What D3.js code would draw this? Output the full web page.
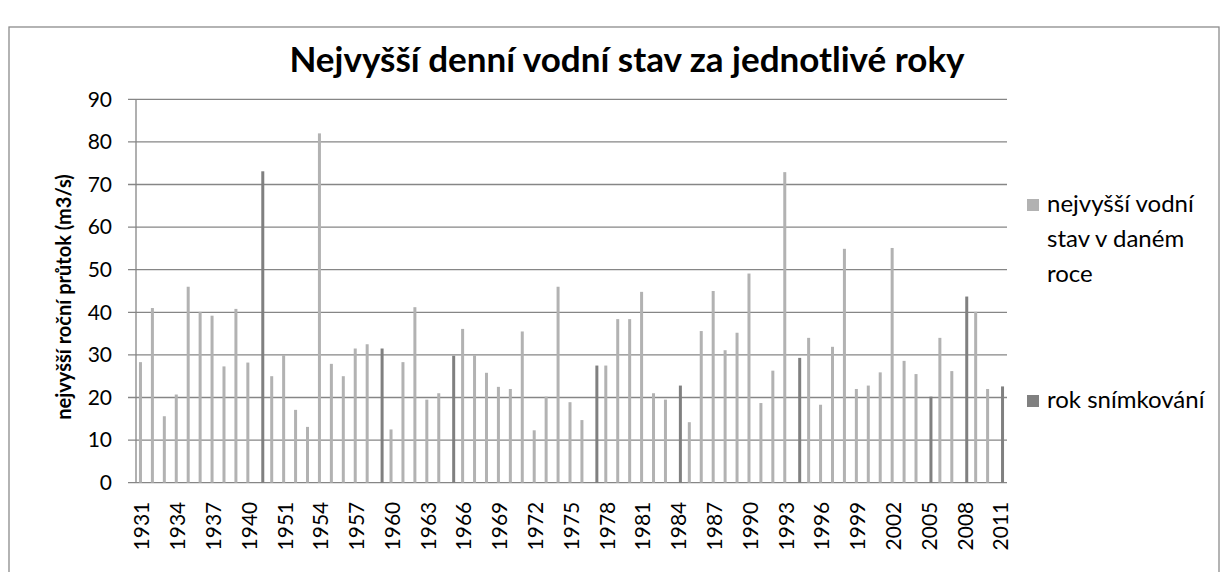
<!DOCTYPE html>
<html><head><meta charset="UTF-8">
<script src="https://d3js.org/d3.v7.min.js"></script>
</head>
<body style="margin:0;background:#fff">
<div id="body"></div>
<script type="text/javascript">

var years = ["1931","1932","1933","1934","1935","1936","1937","1938","1939","1940",
    "1949","1950"];
for (var yr = 1951; yr <= 2011; yr++) years.push(String(yr));

// null where the year is a photo year (shown in the dark series)
var flow = [28.3,41.0,15.6,20.7,46.0,40.1,39.2,27.3,40.8,28.2,
    null,25.0,29.9,17.1,13.1,82.0,27.9,25.0,31.5,32.5,null,12.5,28.3,41.2,19.5,21.0,
    null,36.1,29.9,25.8,22.5,22.0,35.5,12.3,20.2,46.0,18.9,14.7,null,27.5,38.4,38.4,
    44.8,21.0,19.5,null,14.2,35.6,45.0,31.1,35.2,49.1,18.7,26.3,72.9,null,34.0,18.3,
    31.9,54.9,22.0,22.8,25.9,55.1,28.6,25.5,null,34.0,26.2,null,40.1,22.0,null];

var photoYears = ["1949","1959","1965","1977","1984","1994","2005","2008","2011"];
var photoFlow = [73.1,31.5,29.8,27.5,22.8,29.3,20.2,43.7,22.6];

var yTicks = [0,10,20,30,40,50,60,70,80,90];
var seriesColors = ["#b2b2b2", "#808080"];

var w = 1227, h = 572,
    pLeft = 136, pRight = 1007, pTop = 99.3, pBottom = 482.7;

var svg = d3.select("#body").append("svg")
    .attr("width", w)
    .attr("height", h)
    .style("font-family", "Lato, sans-serif");

svg.append("rect")
    .attr("x", 9).attr("y", 27)
    .attr("width", 1210).attr("height", 560)
    .attr("fill", "#fff")
    .attr("stroke", "#8c8c8c")
    .attr("stroke-width", 1.3);

var x = d3.scaleBand().domain(years).range([pLeft, pRight]);
var x1 = d3.scaleBand().domain(["a", "b"]).range([x.bandwidth() / 2 - 3, x.bandwidth() / 2 + 3]);
var yScale = d3.scaleLinear().domain([0, 90]).range([pBottom, pTop]);

// grid
svg.append("g")
    .selectAll("line")
    .data(yTicks)
    .enter().append("line")
    .attr("x1", pLeft - 8).attr("x2", pRight)
    .attr("y1", function(d) { return yScale(d); })
    .attr("y2", function(d) { return yScale(d); })
    .attr("stroke", "#868686")
    .attr("stroke-width", 1.3);

svg.append("line")
    .attr("x1", pLeft).attr("x2", pLeft)
    .attr("y1", pTop).attr("y2", pBottom)
    .attr("stroke", "#868686")
    .attr("stroke-width", 1.3);

svg.append("g")
    .selectAll("text")
    .data(yTicks)
    .enter().append("text")
    .attr("x", pLeft - 24)
    .attr("y", function(d) { return yScale(d); })
    .attr("dy", "0.35em")
    .attr("text-anchor", "end")
    .style("font-size", "21px")
    .text(function(d) { return d; });

// bars
svg.append("g")
    .selectAll("rect")
    .data(years.map(function(d, i) { return {year: d, v: flow[i]}; }).filter(function(d) { return d.v != null; }))
    .enter().append("rect")
    .attr("x", function(d) { return x(d.year) + x1("a"); })
    .attr("width", x1.bandwidth())
    .attr("y", function(d) { return yScale(d.v); })
    .attr("height", function(d) { return pBottom - yScale(d.v); })
    .attr("fill", seriesColors[0]);

svg.append("g")
    .selectAll("rect")
    .data(photoYears.map(function(d, i) { return {year: d, v: photoFlow[i]}; }))
    .enter().append("rect")
    .attr("x", function(d) { return x(d.year) + x1("b"); })
    .attr("width", x1.bandwidth())
    .attr("y", function(d) { return yScale(d.v); })
    .attr("height", function(d) { return pBottom - yScale(d.v); })
    .attr("fill", seriesColors[1]);

// x labels every third category
svg.append("g")
    .selectAll("text")
    .data(years.filter(function(d, i) { return i % 3 == 0; }))
    .enter().append("text")
    .attr("transform", function(d) { return "translate(" + (x(d) + x.bandwidth() / 2) + "," + (pBottom + 19) + ") rotate(-90)"; })
    .attr("dy", "0.35em")
    .attr("text-anchor", "end")
    .style("font-size", "21px")
    .text(function(d) { return d; });

// title
svg.append("text")
    .attr("x", 627).attr("y", 72)
    .attr("text-anchor", "middle")
    .style("font-size", "35px")
    .style("font-weight", "bold")
    .text("Nejvyšší denní vodní stav za jednotlivé roky");

svg.append("text")
    .attr("transform", "translate(71,297) rotate(-90)")
    .attr("text-anchor", "middle")
    .style("font-size", "20px")
    .style("font-weight", "bold")
    .text("nejvyšší roční průtok (m3/s)");

// legend
var legend = [
    {lines: ["nejvyšší vodní", "stav v daném", "roce"], y: 204, color: seriesColors[0]},
    {lines: ["rok snímkování"], y: 400, color: seriesColors[1]}
];
var lg = svg.append("g").selectAll("g").data(legend).enter().append("g");
lg.append("rect")
    .attr("x", 1027).attr("y", function(d) { return d.y - 5; })
    .attr("width", 12).attr("height", 12)
    .attr("fill", function(d) { return d.color; });
lg.each(function(d) {
    var t = d3.select(this).append("text")
        .attr("x", 1047).attr("y", d.y)
        .style("font-size", "24px");
    d.lines.forEach(function(l, i) {
        t.append("tspan").attr("x", 1047).attr("dy", i == 0 ? "0.35em" : "35px").text(l);
    });
});

</script>
</body></html>
